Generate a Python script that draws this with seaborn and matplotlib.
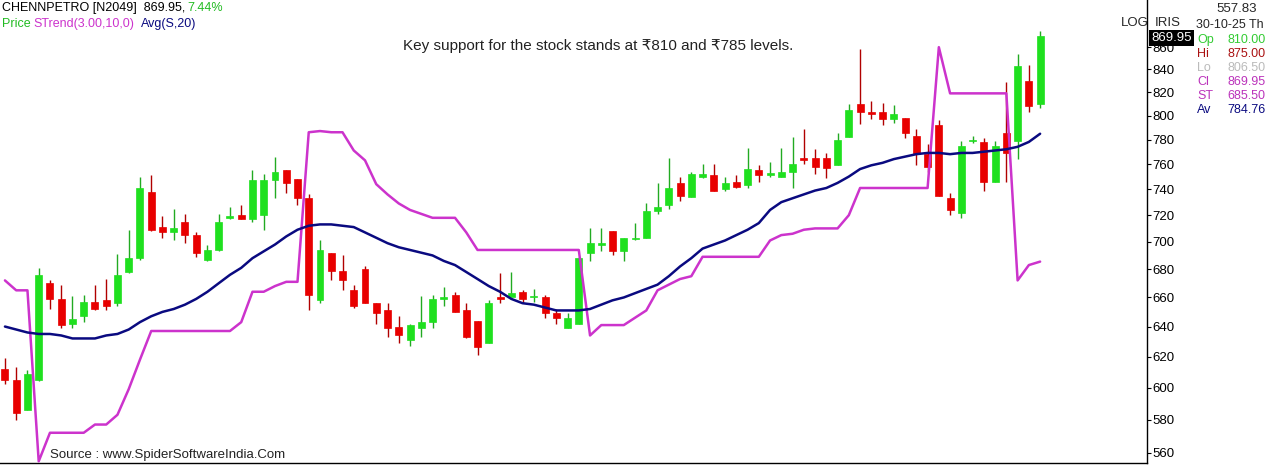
import numpy as np
import pandas as pd
import matplotlib
matplotlib.use("Agg")
import matplotlib.pyplot as plt
import seaborn as sns
from matplotlib.ticker import FixedLocator, NullLocator, FuncFormatter

opens = [612,605,586,605,670,659,642,647,657,658,656,678,688,738,711,707,715,705,687,694,
         718,720,717,720,747,755,748,733,658,692,679,665,680,656,651,640,631,639,643,659,
         662,651,644,629,660,660,664,660,660,649,639,642,692,698,708,693,702,703,723,728,
         745,734,750,751,740,746,743,755,751,750,754,765,765,765,759,782,810,803,803,797,
         798,783,768,792,733,722,779,778,746,785,779,830,810]
highs = [619,613,611,681,672,669,661,662,669,673,691,709,750,751,719,725,721,707,698,721,
         726,728,755,752,766,755,748,736,701,692,690,669,682,656,656,647,642,661,662,667,
         664,656,644,658,677,678,665,666,662,652,649,689,710,710,708,703,714,729,745,765,
         750,754,760,760,750,751,773,759,762,773,782,789,772,769,785,810,858,812,811,809,
         798,789,776,796,737,779,783,781,779,829,854,844,875]
lows = [602,580,586,604,652,639,639,643,651,651,654,677,687,708,703,701,699,689,686,693,
        717,717,715,709,733,737,728,651,656,672,665,653,656,642,633,629,627,633,639,654,
        650,632,621,629,656,660,656,657,646,642,639,642,686,693,690,686,701,703,721,725,
        731,734,749,739,739,741,741,746,750,750,741,760,752,749,759,782,793,797,792,794,
        781,759,754,735,720,718,777,739,746,746,764,803,806.5]
closes = [605,584,609,676,659,641,645,657,652,654,676,688,741,709,707,710,705,692,694,715,
          719,717,747,747,754,745,733,662,694,679,672,654,656,649,639,634,641,643,659,660,
          650,633,626,656,659,663,659,660.5,649,646,646,688,699,699,693,703,703,723,726,741,
          735,752,752,739,745,742,756,751,753,754,760,763,758,757,780,805,803,801,797,801,
          785,768,758,735,724,775,780,746,775,769,843,808,869.95]
sma20 = [640,638,636,635,635,634,632,632,632,634,635,638,643,647,650,652,655,659,664,670,
         676,681,688,693,698,704,709,712,713,713,712,711,707,703,699,696,694,692,690,686,
         683,678,673,668,664,659,656,655,653,651,651,651,652,655,658,660,663,666,669,675,
         682,688,695,698,701,705,709,714,724,730,733,736,739,741,745,750,756,759,761,764,
         766,768,769,769,768,769,769,770,771,772,774,778,784.76]
strend = [672,665,665,555,572,572,572,572,577,577,583,599,618,637,637,637,637,637,637,637,
          637,643,664,664,668,671,671,786,787,786,786,771,763,744,736,729,724,721,718,718,
          718,707,694,694,694,694,694,694,694,694,694,694,634,641,641,641,646,651,665,669,
          673,675,689,689,689,689,689,689,701,705,706,709,710,710,710,720,741,741,741,741,
          741,741,741,860,819,819,819,819,819,819,672,683,685.5]
yticks = list(range(560, 861, 20))

sns.set_style("white")
plt.rcParams['font.family'] = ['Liberation Sans', 'DejaVu Sans']

df = pd.DataFrame({"i": np.arange(len(opens)), "o": opens, "h": highs, "l": lows,
                   "c": closes, "sma": sma20, "st": strend})

fig = plt.figure(figsize=(12.66, 4.71), dpi=100)
ax = fig.add_axes([0, 8/471, 1147/1266, 463/471])

GREEN = "#1fe01f"
RED = "#e80000"
up = df["c"] >= df["o"]
for mask, col, wick in [(up, GREEN, "#22aa22"), (~up, RED, "#b00000")]:
    d = df[mask]
    ax.vlines(d["i"], d["l"], d["h"], color=wick, lw=1, zorder=2)
    ax.bar(d["i"], (d["c"] - d["o"]).abs().clip(lower=0.8), bottom=np.minimum(d["o"], d["c"]),
           width=0.62, color=col, edgecolor=col, lw=0.5, zorder=3)

sns.lineplot(data=df, x="i", y="st", ax=ax, color="#cc33cc", lw=1.8, zorder=4)
sns.lineplot(data=df, x="i", y="sma", ax=ax, color="#0a0a80", lw=1.8, zorder=5)

ax.set_yscale("log")
ax.set_ylim(554, 904)
ax.set_xlim(-0.44, 101.5)
ax.yaxis.set_major_locator(FixedLocator(yticks))
ax.yaxis.set_minor_locator(NullLocator())
ax.yaxis.set_major_formatter(FuncFormatter(lambda v, p: f"{v:.0f}"))
ax.yaxis.tick_right()
ax.tick_params(axis="y", direction="out", length=3, labelsize=9.5, pad=1, colors="black")
ax.set_xticks([])
ax.set_xlabel("")
ax.set_ylabel("")
for s in ["top", "left"]:
    ax.spines[s].set_visible(False)
for s in ["right", "bottom"]:
    ax.spines[s].set_visible(True)
    ax.spines[s].set_color("black")
    ax.spines[s].set_linewidth(1)

def ftxt(x, y, s, **kw):
    fig.text(x / 1266, 1 - y / 471, s, va="center", **kw)

ftxt(2, 8, "CHENNPETRO [N2049]  869.95,", fontsize=9, color="black")
ftxt(187, 8, "7.44%", fontsize=9, color="#22bb22")
ftxt(2, 24, "Price", fontsize=9, color="#22bb22")
ftxt(33, 24, "STrend(3.00,10,0)", fontsize=9, color="#cc33cc")
ftxt(141, 24, "Avg(S,20)", fontsize=9, color="#0a0a80")
ftxt(598, 46, "Key support for the stock stands at ₹810 and ₹785 levels.", fontsize=11,
     color="#222222", ha="center")
ftxt(50, 455, "Source : www.SpiderSoftwareIndia.Com", fontsize=9.5, color="#222222",
     bbox=dict(facecolor="white", edgecolor="none", pad=1))
ftxt(1121, 23, "LOG", fontsize=9.5)
ftxt(1155, 23, "IRIS", fontsize=9.5)
ftxt(1216, 9, "557.83", fontsize=9.5)
ftxt(1196, 25, "30-10-25 Th", fontsize=9)
ftxt(1151, 38, "869.95", fontsize=9.5, color="white",
     bbox=dict(facecolor="black", edgecolor="none", pad=1.5))
rows = [("Op", "810.00", "#33cc33"), ("Hi", "875.00", "#aa1111"), ("Lo", "806.50", "#bbbbbb"),
        ("Cl", "869.95", "#bb33bb"), ("ST", "685.50", "#bb33bb"), ("Av", "784.76", "#0a0a80")]
for k, (lab, val, col) in enumerate(rows):
    yy = 40 + k * 14
    ftxt(1197, yy, lab, fontsize=9, color=col)
    ftxt(1227, yy, val, fontsize=9, color=col)

fig.savefig("out.png", dpi=100)
